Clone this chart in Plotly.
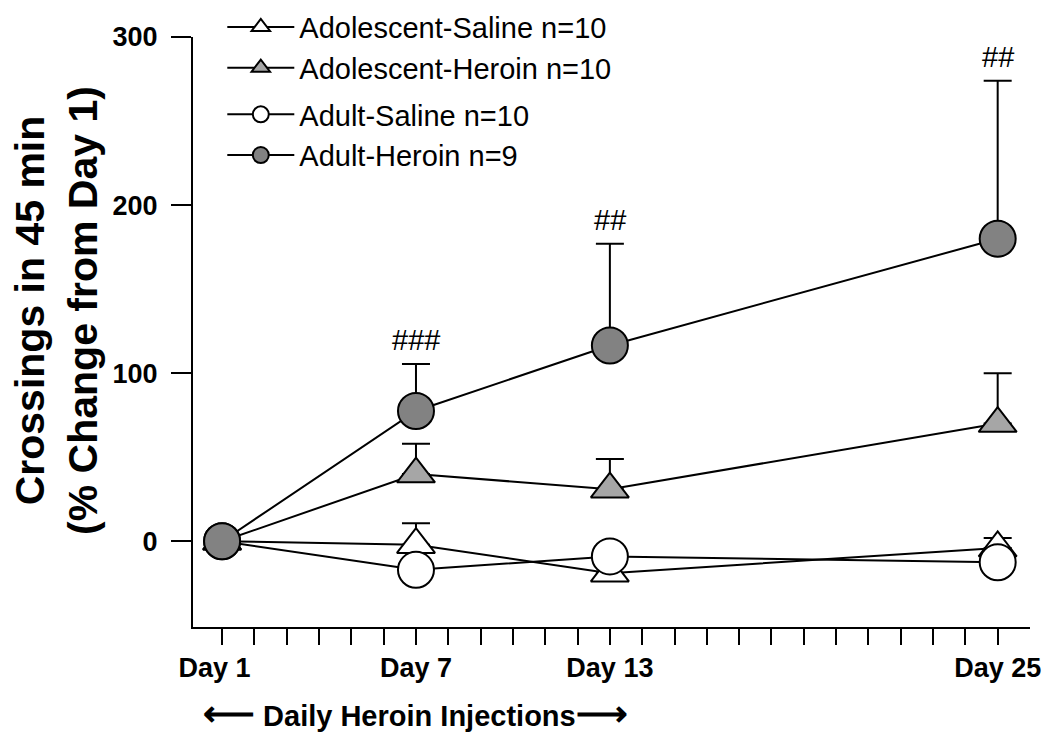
import plotly.graph_objects as go

# ---- data ----
days = [1, 7, 13, 25]
tick_days = list(range(1, 26))
tick_labels = {1: "Day 1\u00a0\u00a0", 7: "Day 7", 13: "Day 13", 25: "Day 25"}

adol_saline = [0, -2, -19, -4]
adol_saline_err = [0, 12.7, 4, 6]

adol_heroin = [0, 40, 31, 70]
adol_heroin_err = [0, 18, 18, 30]

adult_saline = [0, -17, -9, -12.5]
adult_saline_err = [0, 5, 5, 5]

adult_heroin = [0, 77.5, 116.5, 180]
adult_heroin_err = [0, 28, 60.5, 94]

sig_days = [7, 13, 25]
sig_labels = ["###", "##", "##"]

y_ticks = [0, 100, 200, 300]

FONT = "Liberation Sans, Arial, sans-serif"

series = [
    ("Adolescent-Saline n=10", adol_saline, adol_saline_err, "triangle-up", "white", "adol"),
    ("Adolescent-Heroin n=10", adol_heroin, adol_heroin_err, "triangle-up", "#a6a6a6", "adol"),
    ("Adult-Saline n=10", adult_saline, adult_saline_err, "circle", "white", "adult"),
    ("Adult-Heroin n=9", adult_heroin, adult_heroin_err, "circle", "#828282", "adult"),
]

fig = go.Figure()
for name, vals, err, sym, fill, grp in series:
    fig.add_trace(go.Scatter(
        x=days, y=vals, name=name, mode="lines+markers",
        legendgroup=grp,
        line=dict(color="black", width=2),
        marker=dict(symbol=sym, size=36 if sym == "circle" else 33, color=fill,
                    line=dict(color="black", width=2)),
        error_y=dict(type="data", symmetric=False, array=err,
                     arrayminus=[0] * len(err), color="black",
                     thickness=2, width=14),
    ))

# significance marks above the Adult-Heroin error bars
for d, lab in zip(sig_days, sig_labels):
    i = days.index(d)
    top = adult_heroin[i] + adult_heroin_err[i]
    fig.add_annotation(x=d, y=top, xref="x", yref="y", text=lab,
                       showarrow=False, yanchor="bottom", yshift=6,
                       font=dict(family=FONT, size=29, color="black"))

# y-axis title
fig.add_annotation(xref="paper", yref="paper", x=-0.164, y=0.537,
                   text="Crossings in 45 min<br>(% Change from Day 1)",
                   textangle=-90, showarrow=False, xanchor="center", yanchor="middle",
                   font=dict(family=FONT, size=41, color="black", weight="bold"))

# bottom note
fig.add_annotation(xref="x", yref="paper", x=7, y=-0.146,
                   text="<span style='font-size:36px'>⟵</span> Daily Heroin Injections"
                        "<span style='font-size:36px'>⟶</span>",
                   showarrow=False, xanchor="center", yanchor="middle",
                   font=dict(family=FONT, size=29, color="black", weight="bold"))

fig.update_xaxes(
    range=[0.1, 26], showline=True, linewidth=2, linecolor="black",
    showgrid=False, zeroline=False,
    tickmode="array", tickvals=tick_days,
    ticktext=[tick_labels.get(d, "") for d in tick_days],
    ticks="outside", ticklen=16, tickwidth=2, tickcolor="black",
    tickfont=dict(family=FONT, size=27, color="black", weight="bold"),
)
fig.update_yaxes(
    range=[-51, 300], showline=True, linewidth=2, linecolor="black",
    showgrid=False, zeroline=False,
    tickmode="array", tickvals=y_ticks,
    ticks="outside", ticklen=20, tickwidth=2, tickcolor="black",
    ticklabelstandoff=8,
    tickfont=dict(family=FONT, size=27, color="black", weight="bold"),
)

fig.update_layout(
    width=1050, height=734,
    margin=dict(l=193, r=20, t=37, b=107, autoexpand=False),
    plot_bgcolor="white", paper_bgcolor="white",
    showlegend=True,
    legend=dict(x=0.035, y=1.06, xanchor="left", yanchor="top",
                bgcolor="rgba(0,0,0,0)", traceorder="grouped",
                tracegroupgap=6, itemwidth=67,
                font=dict(family=FONT, size=29, color="black")),
)

# remove the page's default 8px body margin so the 1050x734 figure fills the window
fig.write_html("out.html", config={"displayModeBar": False},
               post_script="document.body.style.margin='0';")
